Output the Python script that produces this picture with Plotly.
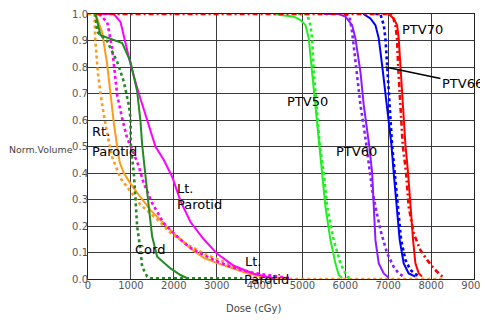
import plotly.graph_objects as go

# ---- data (dose in cGy, normalised volume) ----
rt_parotid_dose = [175, 331, 447, 524, 601, 680, 740, 835, 991, 1185, 1457, 1768, 2079, 2389, 2700, 2933, 3322, 3711, 4177, 4500]
rt_parotid_vol = [1.0, 0.93, 0.81, 0.69, 0.59, 0.5, 0.44, 0.40, 0.36, 0.317, 0.26, 0.21, 0.16, 0.115, 0.08, 0.065, 0.042, 0.022, 0.006, 0.0]
rt_parotid2_dose = [0, 150, 170, 230, 290, 368, 485, 564, 758, 991, 1224, 1613, 1923, 2312, 2778, 3245, 3711, 4100, 8300]
rt_parotid2_vol = [1.0, 1.0, 0.9, 0.78, 0.7, 0.62, 0.52, 0.46, 0.38, 0.33, 0.28, 0.225, 0.175, 0.13, 0.09, 0.06, 0.02, 0.0, 0.0]

lt_parotid_dose = [252, 601, 758, 991, 1185, 1457, 1573, 1768, 1962, 2156, 2389, 2700, 3012, 3399, 3865, 4331]
lt_parotid_vol = [1.0, 1.0, 0.97, 0.81, 0.70, 0.556, 0.5, 0.449, 0.386, 0.295, 0.215, 0.15, 0.095, 0.05, 0.02, 0.003]
lt_parotid2_dose = [252, 447, 564, 601, 680, 797, 914, 1030, 1185, 1301, 1496, 1768, 2079, 2350, 2545, 2933, 3322, 3711, 4177, 4720]
lt_parotid2_vol = [1.0, 0.97, 0.87, 0.81, 0.694, 0.606, 0.53, 0.49, 0.424, 0.361, 0.286, 0.21, 0.16, 0.122, 0.103, 0.072, 0.046, 0.028, 0.015, 0.003]

cord_dose = [175, 291, 797, 991, 1147, 1224, 1263, 1340, 1417, 1496, 1613, 1923, 2156, 2312]
cord_vol = [1.0, 0.92, 0.89, 0.82, 0.707, 0.594, 0.506, 0.40, 0.273, 0.16, 0.084, 0.04, 0.015, 0.003]
cord2_dose = [175, 214, 447, 680, 835, 951, 991, 1000, 1068, 1107, 1147, 1224, 1263, 1380, 1450, 3600]
cord2_vol = [1.0, 0.933, 0.897, 0.82, 0.745, 0.657, 0.606, 0.5, 0.40, 0.298, 0.197, 0.109, 0.046, 0.009, 0.003, 0.003]

ptv50_dose = [4324, 4797, 4953, 5070, 5147, 5225, 5303, 5380, 5459, 5536, 5653, 5769, 5846, 5925]
ptv50_vol = [1.0, 0.99, 0.977, 0.958, 0.908, 0.782, 0.657, 0.506, 0.399, 0.273, 0.147, 0.059, 0.015, 0.003]
ptv50b_dose = [4900, 5110, 5186, 5225, 5264, 5326, 5400, 5497, 5575, 5730, 5886, 6002, 6041, 6100]
ptv50b_vol = [1.0, 1.0, 0.958, 0.908, 0.782, 0.657, 0.51, 0.40, 0.273, 0.147, 0.059, 0.021, 0.009, 0.003]

ptv60_dose = [5490, 5850, 6002, 6158, 6235, 6352, 6429, 6560, 6625, 6662, 6702, 6779, 6896, 7012]
ptv60_vol = [1.0, 1.0, 0.99, 0.958, 0.908, 0.782, 0.657, 0.5, 0.4, 0.273, 0.147, 0.059, 0.021, 0.005]
ptv60b_dose = [6000, 6100, 6160, 6259, 6352, 6480, 6585, 6625, 6702, 6818, 6974, 7128, 7245, 7361]
ptv60b_vol = [1.0, 0.99, 0.93, 0.782, 0.657, 0.52, 0.4, 0.336, 0.273, 0.185, 0.097, 0.046, 0.021, 0.009]

ptv66_dose = [6422, 6585, 6702, 6779, 6857, 6935, 7012, 7075, 7128, 7191, 7268, 7361, 7478, 7634]
ptv66_vol = [1.0, 0.983, 0.958, 0.908, 0.808, 0.707, 0.606, 0.506, 0.4, 0.273, 0.147, 0.059, 0.021, 0.009]
ptv66b_dose = [6700, 6818, 6896, 6935, 6974, 7012, 7051, 7090, 7152, 7222, 7300, 7401, 7517, 7712]
ptv66b_vol = [1.0, 1.0, 0.958, 0.908, 0.808, 0.707, 0.606, 0.506, 0.4, 0.273, 0.147, 0.072, 0.034, 0.009]

ptv70_dose = [7012, 7128, 7206, 7245, 7284, 7324, 7361, 7401, 7463, 7517, 7580, 7634, 7712, 7790]
ptv70_vol = [1.0, 0.983, 0.958, 0.908, 0.808, 0.707, 0.606, 0.506, 0.4, 0.273, 0.147, 0.059, 0.021, 0.009]
ptv70b_dose = [200, 7090, 7168, 7206, 7230, 7261, 7300, 7338, 7417, 7478, 7594, 7750, 7906, 8061, 8217, 8294]
ptv70b_vol = [1.0, 1.0, 0.958, 0.908, 0.808, 0.707, 0.606, 0.506, 0.4, 0.273, 0.172, 0.109, 0.072, 0.04, 0.015, 0.006]

x_ticks = [0, 1000, 2000, 3000, 4000, 5000, 6000, 7000, 8000, 9000]
y_ticks = [0.0, 0.1, 0.2, 0.3, 0.4, 0.5, 0.6, 0.7, 0.8, 0.9, 1.0]

ORANGE = "#ff9a1a"
MAGENTA = "#ff00ff"
CORD = "#228b22"
LIME = "#22ee22"
PURPLE = "#8c1cff"
BLUE = "#0000ff"
RED = "#ff0000"

DOT = "3px,3px"

series = [
    (rt_parotid_dose, rt_parotid_vol, ORANGE, "solid"),
    (rt_parotid2_dose, rt_parotid2_vol, ORANGE, DOT),
    (lt_parotid_dose, lt_parotid_vol, MAGENTA, "solid"),
    (lt_parotid2_dose, lt_parotid2_vol, MAGENTA, DOT),
    (cord_dose, cord_vol, CORD, "solid"),
    (cord2_dose, cord2_vol, CORD, DOT),
    (ptv50_dose, ptv50_vol, LIME, "solid"),
    (ptv50b_dose, ptv50b_vol, LIME, DOT),
    (ptv60_dose, ptv60_vol, PURPLE, "solid"),
    (ptv60b_dose, ptv60b_vol, PURPLE, DOT),
    (ptv66_dose, ptv66_vol, BLUE, "solid"),
    (ptv66b_dose, ptv66b_vol, BLUE, DOT),
    (ptv70_dose, ptv70_vol, RED, "solid"),
    (ptv70b_dose, ptv70b_vol, RED, "5px,3px,2px,3px"),
]

fig = go.Figure()
for xs, ys, col, dash in series:
    fig.add_trace(go.Scatter(
        x=xs, y=ys, mode="lines",
        line=dict(color=col, width=2 if dash == "solid" else 2.6, dash=dash),
        showlegend=False, hoverinfo="skip",
    ))

LBL = dict(family="DejaVu Sans", size=13, color="#000000")

labels = [
    ("Rt.", 35, 0.555),
    ("Parotid", 35, 0.48),
    ("Lt.", 2040, 0.34),
    ("Parotid", 2040, 0.28),
    ("Cord", 1050, 0.11),
    ("Lt.", 3610, 0.065),
    ("Parotid", 3600, 0.0),
    ("PTV50", 4600, 0.67),
    ("PTV60", 5730, 0.48),
    ("PTV70", 7280, 0.94),
]
for t, x, y in labels:
    fig.add_annotation(x=x, y=y, xref="x", yref="y", text=t, showarrow=False,
                       xanchor="left", yanchor="middle", font=LBL)

fig.add_annotation(x=6935, y=0.80, xref="x", yref="y", text="PTV66",
                   showarrow=True, arrowhead=0, arrowwidth=1.5, arrowcolor="#000000",
                   ax=77, ay=16, font=LBL)

fig.add_annotation(x=0, y=0.488, xref="paper", yref="paper",
                   xshift=-81, text="Norm.Volume", showarrow=False,
                   xanchor="left", yanchor="middle",
                   font=dict(family="DejaVu Sans", size=9.4, color="#444444"))
fig.add_annotation(x=0.43, y=0, xref="paper", yref="paper",
                   yshift=-29, text="Dose (cGy)", showarrow=False,
                   xanchor="center", yanchor="middle",
                   font=dict(family="DejaVu Sans", size=10, color="#444444"))

axis_common = dict(showgrid=True, gridcolor="#3a3a3a", gridwidth=1,
                   showline=True, linecolor="#222222", linewidth=1, mirror=True,
                   zeroline=False, ticks="", automargin=False,
                   tickfont=dict(family="DejaVu Sans", size=10, color="#555555"))

fig.update_xaxes(range=[0, 9000], tickvals=x_ticks, ticklabelstandoff=-3,
                 ticktext=[str(v) for v in x_ticks], **axis_common)
fig.update_yaxes(range=[0, 1.0], tickvals=y_ticks, ticklabelstandoff=-3,
                 ticktext=[f"{v:.1f}" for v in y_ticks], **axis_common)

# the page body adds an 8px margin, so the figure is 480x312 placed at (8, 8)
fig.update_layout(
    width=480, height=312,
    margin=dict(l=80, r=14, t=6, b=41),
    paper_bgcolor="white", plot_bgcolor="white",
)

fig.write_html("out.html")
